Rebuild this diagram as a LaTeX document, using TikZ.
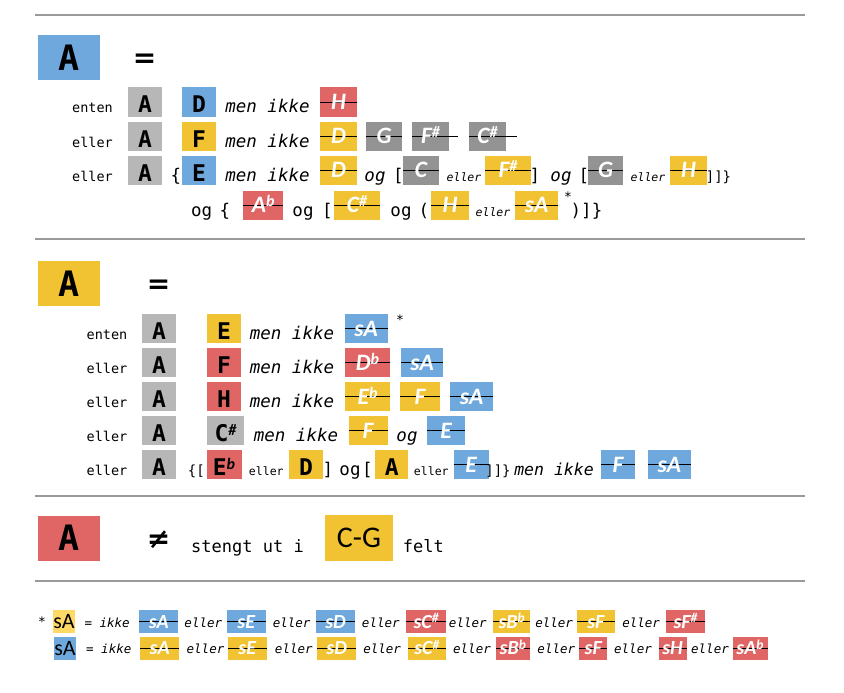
\documentclass[tikz,border=0pt]{standalone}
\usepackage{fontspec}
\setmainfont{DejaVu Sans Mono}
\newfontfamily\calf{Carlito}
\newfontfamily\dvs{DejaVu Sans}
\definecolor{cb}{HTML}{6FA8DC}
\definecolor{cy}{HTML}{F1C232}
\definecolor{cr}{HTML}{E06666}
\definecolor{cg}{HTML}{B7B7B7}
\definecolor{cd}{HTML}{939393}
\definecolor{cly}{HTML}{FFD966}
\definecolor{rulec}{HTML}{9A9A9A}
\newcommand\ssp[1]{\raisebox{6pt}{\fontsize{16}{16}\selectfont #1}}
\newcommand\lsp[1]{\raisebox{5.5pt}{\fontsize{13.5}{14}\selectfont #1}}
\newcommand\shi{\calf\bfseries\itshape}
% struck box: [ext] name fill width pos text
\newcommand\skb[6][0pt]{%
  \node[bx, fill=#3, minimum width=#4] (#2) at (#5) {};
  \draw[strk] (#2.west) -- ([xshift=#1]#2.east);
  \node[sbt] (#2t) at (#2.center) {#6};}
% legend struck box: name fill width pos text
\newcommand\lkb[5]{%
  \node[lbx, fill=#2, minimum width=#3] (#1) at (#4) {};
  \draw[strk] (#1.west) -- (#1.east);
  \node[lbt] (#1t) at (#1.center) {#5};}
\tikzset{
  every node/.style={inner sep=0pt, outer sep=0pt},
  txt/.style={anchor=base, font=\fontsize{17.5}{20}\selectfont},
  brk/.style={anchor=base, font=\fontsize{14}{17}\selectfont},
  itx/.style={anchor=base, font=\fontsize{17.5}{20}\selectfont\itshape},
  lab/.style={anchor=base, font=\fontsize{13.5}{16}\selectfont},
  sml/.style={anchor=base, font=\fontsize{11.5}{14}\selectfont\itshape},
  smu/.style={anchor=base, font=\fontsize{11.5}{14}\selectfont},
  ltx/.style={anchor=base, font=\fontsize{12.5}{14}\selectfont\itshape},
  lequ/.style={anchor=base, font=\fontsize{12.5}{14}\selectfont},
  star/.style={anchor=center, font=\fontsize{13}{14}\selectfont},
  strk/.style={black, line width=0.9pt},
  bx/.style={anchor=base, minimum height=29pt, text height=25.5pt, text depth=3.5pt, font=\fontsize{23}{25}\selectfont\bfseries},
  sbt/.style={anchor=center, text height=15pt, text depth=0pt, text=white, font=\calf\fontsize{23.5}{25}\selectfont\bfseries\itshape},
  bigbx/.style={anchor=center, minimum width=62pt, minimum height=45pt, font=\fontsize{35}{40}\selectfont\bfseries},
  eqs/.style={anchor=center, font=\dvs\fontsize{28}{30}\selectfont\bfseries},
  lbx/.style={anchor=center, minimum height=23pt},
  lbt/.style={anchor=center, text height=13pt, text depth=0pt, text=white, font=\calf\fontsize{20}{22}\selectfont\bfseries\itshape},
  kbx/.style={anchor=center, minimum height=23pt, text height=14pt, text depth=0pt, font=\calf\fontsize{22}{24}\selectfont},
  sepline/.style={rulec, line width=1.3pt},
}
\begin{document}
\begin{tikzpicture}[x=1pt, y=-1pt]
\useasboundingbox[fill=white] (0,0) rectangle (844,693);
% separators
\draw[sepline] (35,15) -- (805,15);
\draw[sepline] (35,239) -- (805,239);
\draw[sepline] (35,496) -- (805,496);
\draw[sepline] (35,581) -- (805,581);

% ===== Section 1 =====
\node[bigbx, fill=cb] (s1A) at (69,58) {A};
\node[eqs] (s1eq) at (144.5,61) {=};
% row 1
\node[lab] (a1l) at (92.5,113) {enten};
\node[bx, fill=cg, minimum width=34pt] (a1a) at (145,113) {A};
\node[bx, fill=cb, minimum width=34pt] (a1b) at (199,113) {D};
\node[itx] (a1t) at (267.5,113) {men ikke};
\skb{a1c}{cr}{37pt}{338.5,113}{H}
% row 2
\node[lab] (a2l) at (92.5,147) {eller};
\node[bx, fill=cg, minimum width=34pt] (a2a) at (145,147) {A};
\node[bx, fill=cy, minimum width=34pt] (a2b) at (199,147) {F};
\node[itx] (a2t) at (267.5,147) {men ikke};
\skb{a2c}{cy}{37pt}{338.5,147}{D}
\skb{a2d}{cd}{36pt}{384,147}{G}
\skb[9pt]{a2e}{cd}{37pt}{430.5,147}{F\ssp{\#}}
\skb[11pt]{a2f}{cd}{37pt}{487.5,147}{C\ssp{\#}}
% row 3
\node[lab] (a3l) at (92.5,181) {eller};
\node[bx, fill=cg, minimum width=34pt] (a3a) at (145,181) {A};
\node[txt] (a3br) at (176,181) {\{};
\node[bx, fill=cb, minimum width=34pt] (a3b) at (199,181) {E};
\node[itx] (a3t) at (267.5,181) {men ikke};
\skb{a3c}{cy}{37pt}{338.5,181}{D}
\node[itx] (a3og) at (375,181) {og};
\node[txt] (a3k1) at (398.5,181) {[};
\skb{a3d}{cd}{36pt}{421,181}{C}
\node[sml] (a3e1) at (464,181) {eller};
\skb{a3e}{cy}{46pt}{508,181}{F\ssp{\#}}
\node[txt] (a3k2) at (535,181) {]};
\node[itx] (a3og2) at (561,181) {og};
\node[txt] (a3k3) at (584,181) {[};
\skb{a3f}{cd}{35pt}{605.5,181}{G}
\node[sml] (a3e2) at (648,181) {eller};
\skb{a3g}{cy}{37pt}{688.5,181}{H}
\node[brk] (a3k4) at (718.5,181) {]]\}};
% row 4
\node[txt] (a4og) at (201.7,216) {og};
\node[txt] (a4br) at (225,216) {\{};
\skb{a4a}{cr}{40pt}{263.3,216}{A\ssp{b}}
\node[txt] (a4og2) at (303,216) {og};
\node[txt] (a4k1) at (327.5,216) {[};
\skb{a4b}{cy}{46pt}{357,216}{C\ssp{\#}}
\node[txt] (a4og3) at (401,216) {og};
\node[txt] (a4p) at (424,216) {(};
\skb{a4c}{cy}{38pt}{450,216}{H}
\node[sml] (a4e) at (493,216) {eller};
\skb{a4d}{cy}{43pt}{536.7,216}{sA}
\node[star] (a4s) at (568,197) {*};
\node[txt] (a4k) at (586.5,216) {)]\}};

% ===== Section 2 =====
\node[bigbx, fill=cy] (s2A) at (69,283.5) {A};
\node[eqs] (s2eq) at (158.5,286.5) {=};
% row 1
\node[lab] (b1l) at (107,339.5) {enten};
\node[bx, fill=cg, minimum width=34pt] (b1a) at (159,339.5) {A};
\node[bx, fill=cy, minimum width=34pt] (b1b) at (224,339.5) {E};
\node[itx] (b1t) at (292,339.5) {men ikke};
\skb{b1c}{cb}{43pt}{366,339.5}{sA}
\node[star] (b1s) at (400,320) {*};
% row 2
\node[lab] (b2l) at (107,373.5) {eller};
\node[bx, fill=cg, minimum width=34pt] (b2a) at (159,373.5) {A};
\node[bx, fill=cr, minimum width=34pt] (b2b) at (224,373.5) {F};
\node[itx] (b2t) at (292,373.5) {men ikke};
\skb{b2c}{cr}{45pt}{367.5,373.5}{D\ssp{b}}
\skb{b2d}{cb}{42pt}{422,373.5}{sA}
% row 3
\node[lab] (b3l) at (107,407.5) {eller};
\node[bx, fill=cg, minimum width=34pt] (b3a) at (159,407.5) {A};
\node[bx, fill=cr, minimum width=34pt] (b3b) at (224,407.5) {H};
\node[itx] (b3t) at (292,407.5) {men ikke};
\skb{b3c}{cy}{45pt}{367.5,407.5}{E\ssp{b}}
\skb{b3d}{cy}{40pt}{420,407.5}{F}
\skb{b3e}{cb}{43pt}{471.5,407.5}{sA}
% row 4
\node[lab] (b4l) at (107,441.5) {eller};
\node[bx, fill=cg, minimum width=34pt] (b4a) at (159,441.5) {A};
\node[bx, fill=cg, minimum width=37.5pt] (b4b) at (225.5,441.5) {C\ssp{\shi\#}};
\node[itx] (b4t) at (296,441.5) {men ikke};
\skb{b4c}{cy}{39pt}{368,441.5}{F}
\node[itx] (b4og) at (407,441.5) {og};
\skb{b4d}{cb}{38pt}{446,441.5}{E}
% row 5
\node[lab] (b5l) at (107,475.5) {eller};
\node[bx, fill=cg, minimum width=34pt] (b5a) at (159,475.5) {A};
\node[brk] (b5k1) at (196.3,475.5) {\{[};
\node[bx, fill=cr, minimum width=35pt] (b5b) at (224,475.5) {E\ssp{\shi b}};
\node[smu] (b5e1) at (266.3,475.5) {eller};
\node[bx, fill=cy, minimum width=33.5pt] (b5c) at (306,475.5) {D};
\node[txt] (b5k2) at (328,475.5) {]};
\node[txt] (b5og) at (350,475.5) {og};
\node[txt] (b5k3) at (367.5,475.5) {[};
\node[bx, fill=cy, minimum width=33pt] (b5d) at (391.7,475.5) {A};
\node[smu] (b5e2) at (431.3,475.5) {eller};
\skb{b5e}{cb}{35pt}{471,475.5}{E}
\node[brk] (b5k4) at (498,475.5) {]]\}};
\node[anchor=base, font=\fontsize{16.5}{20}\selectfont\itshape] (b5t) at (554,475.5) {men ikke};
\skb{b5f}{cb}{34pt}{618,475.5}{F}
\skb{b5g}{cb}{43pt}{669.3,475.5}{sA}

% ===== Section 3 =====
\node[bigbx, fill=cr] (s3A) at (69,538) {A};
\node[eqs] (s3ne) at (158.5,540) {≠};
\node[anchor=base, font=\fontsize{17}{20}\selectfont] (s3t) at (247.5,552) {stengt ut i};
\node[anchor=center, fill=cy, minimum width=68pt, minimum height=46pt, font=\calf\fontsize{30}{32}\selectfont] (s3cg) at (359,538) {\raisebox{-4pt}{C-G}};
\node[anchor=base, font=\fontsize{17}{20}\selectfont] (s3f) at (423.3,552) {felt};

% ===== Legend =====
% row 1
\node[star] (l1s) at (42,621.5) {*};
\node[kbx, fill=cly, minimum width=22pt] (l1k) at (64,621.5) {sA};
\node[lequ] (l1eq) at (88.3,627.5) {=};
\node[ltx] (l1i) at (114.7,627.5) {ikke};
\lkb{l1a}{cb}{39pt}{158.8,621.5}{sA}
\node[ltx] (l1e1) at (203.3,627.5) {eller};
\lkb{l1b}{cb}{39pt}{246.3,621.5}{sE}
\node[ltx] (l1e2) at (291.7,627.5) {eller};
\lkb{l1c}{cb}{39pt}{335.5,621.5}{sD}
\node[ltx] (l1e3) at (380.8,627.5) {eller};
\lkb{l1d}{cr}{40pt}{426,621.5}{sC\lsp{\#}}
\node[ltx] (l1e4) at (467.8,627.5) {eller};
\lkb{l1e}{cy}{37pt}{511.7,621.5}{sB\lsp{b}}
\node[ltx] (l1e5) at (554.2,627.5) {eller};
\lkb{l1f}{cy}{38pt}{595.8,621.5}{sF}
\node[ltx] (l1e6) at (641.2,627.5) {eller};
\lkb{l1g}{cr}{39pt}{685.5,621.5}{sF\lsp{\#}}
% row 2
\node[kbx, fill=cb, minimum width=20pt] (l2k) at (65,648) {sA};
\node[lequ] (l2eq) at (90,653.5) {=};
\node[ltx] (l2i) at (116.3,653.5) {ikke};
\lkb{l2a}{cy}{39pt}{159.7,648}{sA}
\node[ltx] (l2e1) at (205.5,653.5) {eller};
\lkb{l2b}{cy}{39pt}{247.2,648}{sE}
\node[ltx] (l2e2) at (293.8,653.5) {eller};
\lkb{l2c}{cy}{39pt}{336.7,648}{sD}
\node[ltx] (l2e3) at (382.2,653.5) {eller};
\lkb{l2d}{cy}{38pt}{426.8,648}{sC\lsp{\#}}
\node[ltx] (l2e4) at (472,653.5) {eller};
\lkb{l2e}{cr}{34pt}{512.8,648}{sB\lsp{b}}
\node[ltx] (l2e5) at (556.3,653.5) {eller};
\lkb{l2f}{cr}{28pt}{593.2,648}{sF}
\node[ltx] (l2e6) at (633,653.5) {eller};
\lkb{l2g}{cr}{28pt}{672.5,648}{sH}
\node[ltx] (l2e7) at (710,653.5) {eller};
\lkb{l2h}{cr}{35pt}{750,648}{sA\lsp{b}}
\end{tikzpicture}
\end{document}
